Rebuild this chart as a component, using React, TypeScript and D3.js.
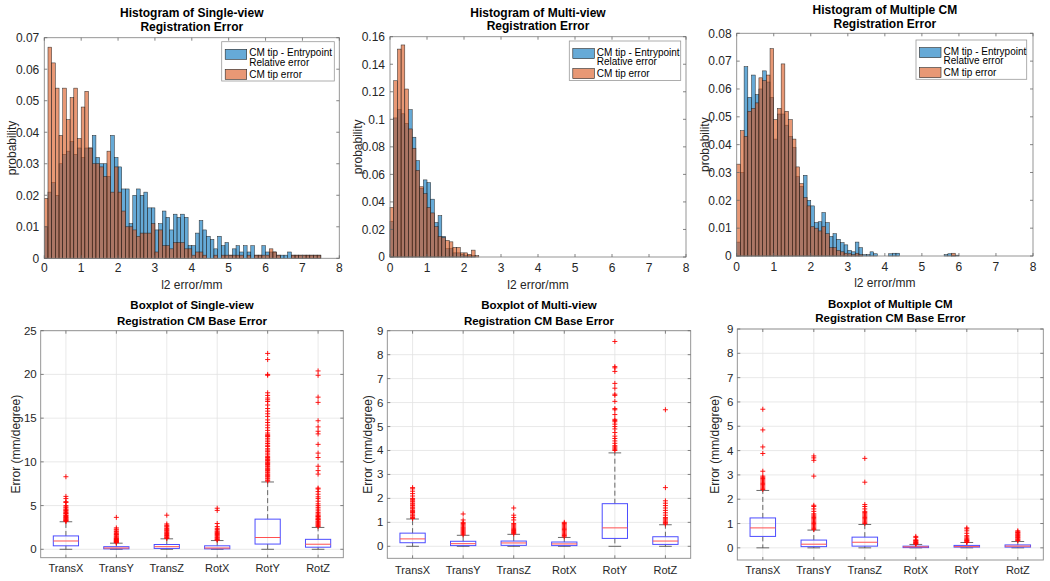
import React from 'react';
import * as d3 from 'd3';

const FONT = '"Liberation Sans", Arial, Helvetica, sans-serif';
const BLUE = '#0072BD';
const ORANGE = '#D95319';
const TXT = '#262626';

// ---------- histogram data (bin width 0.1 mm, starting at 0) ----------
const histXTicks = [0, 1, 2, 3, 4, 5, 6, 7, 8];
const binWidth = 0.1;

const h1Relative = [
  0.010, 0.021, 0.024, 0.020, 0.030, 0.033, 0.034, 0.037, 0.033, 0.035, 0.032, 0.035,
  0.035, 0.039, 0.032, 0.030, 0.030, 0.026, 0.039, 0.032, 0.029, 0.022, 0.022, 0.011,
  0.020, 0.022, 0.020, 0.021, 0.016, 0.016, 0.009, 0.011, 0.015, 0.013, 0.009, 0.014,
  0.013, 0.014, 0.013, 0.004, 0.004, 0.008, 0.012, 0.009, 0.007, 0.006, 0.003, 0.007,
  0.004, 0.005, 0.001, 0.003, 0.004, 0.002, 0.004, 0.002, 0.004, 0.001, 0.001, 0.004,
  0.002, 0.002, 0.002, 0.001, 0.001, 0.001, 0.002, 0.001, 0.001, 0.001, 0.001, 0.001, 0.001, 0.001, 0.001,
];
const h1Tip = [
  0.019, 0.067, 0.062, 0.054, 0.039, 0.054, 0.044, 0.051, 0.054, 0.038, 0.048, 0.053,
  0.035, 0.030, 0.030, 0.029, 0.026, 0.034, 0.021, 0.029, 0.021, 0.015, 0.010, 0.010,
  0.009, 0.007, 0.008, 0.008, 0.008, 0.011, 0.002, 0.009, 0.004, 0.004, 0.003, 0.005,
  0.005, 0.005, 0.003, 0.003, 0.001, 0.002, 0.002, 0.001, 0.000, 0.000, 0.001, 0.000,
  0.001, 0.001, 0.001, 0.001, 0.001, 0.001, 0.000, 0.001, 0.000, 0.001, 0.001, 0.001,
  0.001, 0.003, 0.002, 0.001, 0.000, 0.000, 0.000, 0.001, 0.001, 0.001, 0.001, 0.001, 0.001, 0.001, 0.001,
];
const h1YTicks = [0, 0.01, 0.02, 0.03, 0.04, 0.05, 0.06, 0.07];

const h2Relative = [
  0.026, 0.101, 0.107, 0.104, 0.097, 0.107, 0.087, 0.070, 0.050, 0.056, 0.054, 0.042,
  0.025, 0.030, 0.015, 0.006, 0.006, 0.003, 0.003, 0.002, 0.001, 0.001, 0.001, 0.000,
];
const h2Tip = [
  0.036, 0.128, 0.151, 0.154, 0.122, 0.093, 0.079, 0.063, 0.051, 0.046, 0.036, 0.032,
  0.022, 0.015, 0.014, 0.012, 0.011, 0.007, 0.007, 0.003, 0.003, 0.002, 0.005, 0.001,
];
const h2YTicks = [0, 0.02, 0.04, 0.06, 0.08, 0.1, 0.12, 0.14, 0.16];

const h3Relative = [
  0.005, 0.030, 0.068, 0.057, 0.065, 0.058, 0.060, 0.0665, 0.0625, 0.057, 0.042, 0.051,
  0.051, 0.047, 0.043, 0.039, 0.0285, 0.025, 0.029, 0.020, 0.018, 0.012, 0.0123, 0.0156,
  0.012, 0.007, 0.008, 0.006, 0.0048, 0.004, 0.002, 0.0015, 0.005, 0.003, 0.0005, 0.0005,
  0.0015, 0.0008, 0, 0, 0, 0.0008, 0.001, 0.001, 0, 0, 0, 0,
  0, 0, 0, 0, 0, 0, 0, 0, 0.0005, 0.0008, 0.0003, 0.0003,
];
const h3Tip = [
  0.033, 0.045, 0.043, 0.052, 0.053, 0.055, 0.064, 0.063, 0.065, 0.0745, 0.049, 0.053,
  0.069, 0.052, 0.049, 0.042, 0.032, 0.026, 0.021, 0.018, 0.0105, 0.010, 0.009, 0.0105,
  0.008, 0.003, 0.003, 0.002, 0.0015, 0.001, 0.0008, 0.0005, 0.001, 0.0005, 0, 0,
  0, 0, 0, 0, 0, 0, 0, 0, 0, 0, 0, 0,
  0, 0, 0, 0, 0, 0, 0, 0, 0, 0, 0.001, 0,
];
const h3YTicks = [0, 0.01, 0.02, 0.03, 0.04, 0.05, 0.06, 0.07, 0.08];

const legendLabels = ['CM tip - Entrypoint', 'Relative error', 'CM tip error'];

// ---------- boxplot data ----------
const boxCategories = ['TransX', 'TransY', 'TransZ', 'RotX', 'RotY', 'RotZ'];
// [lower whisker, q1, median, q3, upper whisker]
const b1Stats = [
  [0, 0.4, 0.95, 1.53, 3.15],
  [0, 0.05, 0.15, 0.3, 0.7],
  [0, 0.1, 0.3, 0.55, 1.2],
  [0, 0.05, 0.15, 0.4, 1.0],
  [0, 0.6, 1.35, 3.45, 7.7],
  [0, 0.24, 0.58, 1.14, 2.5],
];
const b1Outliers = [
  [3.2, 3.25, 3.3, 3.38, 3.45, 3.5, 3.6, 3.65, 3.75, 3.85, 3.9, 4.05, 4.1, 4.2, 4.3, 4.45, 4.5, 4.6, 4.75, 4.85, 5.0, 5.35, 5.45, 5.8, 6.05, 8.3],
  [0.75, 0.8, 0.85, 0.9, 0.95, 1.0, 1.05, 1.12, 1.18, 1.25, 1.3, 1.4, 1.5, 1.62, 1.7, 1.8, 1.95, 2.05, 2.2, 2.3, 2.45, 3.65],
  [1.25, 1.32, 1.4, 1.5, 1.58, 1.7, 1.8, 1.9, 2.0, 2.12, 2.2, 2.3, 2.4, 2.55, 2.65, 2.75, 2.9, 3.9],
  [1.05, 1.1, 1.2, 1.3, 1.38, 1.5, 1.6, 1.7, 1.8, 1.9, 2.0, 2.1, 2.25, 2.4, 2.6, 2.95, 4.45, 4.7],
  [7.8, 7.9, 8.05, 8.15, 8.3, 8.4, 8.5, 8.6, 8.75, 8.85, 9.0, 9.1, 9.2, 9.3, 9.45, 9.55, 9.7, 9.8, 9.9, 10.0, 10.15, 10.25, 10.35, 10.5, 10.6, 10.8, 11.0, 11.2, 11.35, 11.5, 11.75, 11.9, 12.1, 12.3, 12.5, 12.7, 12.9, 13.0, 13.1, 13.3, 13.6, 13.9, 14.2, 14.5, 14.8, 15.2, 15.5, 15.8, 16.1, 16.5, 16.9, 17.1, 17.3, 17.6, 17.9, 19.9, 20.0, 21.7, 22.4],
  [2.6, 2.7, 2.8, 2.9, 3.0, 3.1, 3.2, 3.35, 3.4, 3.5, 3.6, 3.75, 3.8, 3.9, 4.05, 4.2, 4.4, 4.6, 4.8, 5.0, 5.2, 5.5, 5.8, 6.0, 6.3, 6.6, 6.9, 7.0, 8.6, 9.0, 9.5, 10.5, 11.0, 12.0, 13.2, 13.5, 14.0, 14.7, 16.8, 17.4, 19.9, 20.4],
];
const b1YTicks = [0, 5, 10, 15, 20, 25];

const b2Stats = [
  [0, 0.15, 0.31, 0.55, 1.14],
  [0, 0.03, 0.11, 0.21, 0.46],
  [0, 0.04, 0.14, 0.22, 0.5],
  [0, 0.03, 0.1, 0.18, 0.37],
  [0, 0.33, 0.77, 1.78, 3.9],
  [0, 0.08, 0.22, 0.4, 0.9],
];
const b2Outliers = [
  [1.16, 1.2, 1.26, 1.3, 1.35, 1.41, 1.45, 1.5, 1.56, 1.6, 1.64, 1.7, 1.76, 1.8, 1.86, 1.9, 1.96, 2.0, 2.1, 2.2, 2.3, 2.4, 2.45],
  [0.48, 0.52, 0.56, 0.6, 0.64, 0.68, 0.72, 0.76, 0.8, 0.85, 0.9, 0.95, 1.0, 1.1, 1.35],
  [0.52, 0.55, 0.58, 0.62, 0.66, 0.7, 0.75, 0.8, 0.85, 0.9, 0.95, 1.1, 1.2, 1.3, 1.6],
  [0.4, 0.45, 0.5, 0.55, 0.6, 0.65, 0.7, 0.75, 0.8, 0.85, 0.9, 0.95, 1.0],
  [4.0, 4.05, 4.1, 4.15, 4.2, 4.3, 4.4, 4.5, 4.6, 4.75, 4.9, 5.0, 5.1, 5.2, 5.25, 5.3, 5.5, 5.7, 5.75, 6.05, 6.3, 6.35, 6.6, 6.8, 7.3, 7.45, 7.5, 8.55],
  [0.93, 0.97, 1.0, 1.05, 1.1, 1.15, 1.2, 1.3, 1.4, 1.5, 1.6, 1.7, 1.8, 1.9, 2.45, 5.7],
];
const b23YTicks = [0, 1, 2, 3, 4, 5, 6, 7, 8, 9];

const b3Stats = [
  [0, 0.47, 0.82, 1.23, 2.36],
  [0, 0.05, 0.15, 0.32, 0.73],
  [0, 0.07, 0.23, 0.44, 0.96],
  [0, 0.01, 0.04, 0.07, 0.14],
  [0, 0.03, 0.05, 0.1, 0.22],
  [0, 0.03, 0.07, 0.12, 0.26],
];
const b3Outliers = [
  [2.4, 2.45, 2.5, 2.55, 2.6, 2.65, 2.7, 2.75, 2.8, 2.85, 2.9, 2.95, 3.15, 3.88, 4.15, 4.85, 5.7],
  [0.75, 0.8, 0.85, 0.9, 0.95, 1.0, 1.05, 1.1, 1.15, 1.2, 1.25, 1.3, 1.35, 1.4, 1.5, 1.6, 1.7, 1.75, 2.95, 3.6, 3.7, 3.78],
  [1.0, 1.05, 1.1, 1.15, 1.2, 1.25, 1.3, 1.35, 1.4, 1.45, 1.5, 1.6, 1.7, 1.78, 2.7, 3.68],
  [0.15, 0.18, 0.2, 0.22, 0.25, 0.28, 0.3, 0.33, 0.42, 0.47],
  [0.22, 0.25, 0.28, 0.3, 0.33, 0.36, 0.4, 0.45, 0.5, 0.6, 0.7, 0.78, 0.82],
  [0.3, 0.33, 0.36, 0.4, 0.43, 0.46, 0.5, 0.53, 0.56, 0.6, 0.63, 0.66, 0.7],
];

const fmt = (v: number) => String(+v.toFixed(3));

type HistProps = {
  x0: number; x1: number; y0: number; y1: number;
  ymax: number; yTicks: number[];
  blue: number[]; orange: number[];
  title: string[]; titleY: number[];
  ylabelX: number; xTickY: number; xlabelY: number;
  legend: { left: number; top: number; w: number; h: number };
};

function HistPanel(p: HistProps) {
  const xs = d3.scaleLinear().domain([0, 8]).range([p.x0, p.x1]);
  const ys = d3.scaleLinear().domain([0, p.ymax]).range([p.y1, p.y0]);
  const cx = (p.x0 + p.x1) / 2;
  const cy = (p.y0 + p.y1) / 2;
  const bars = (vals: number[], color: string, key: string) =>
    vals.map((v, i) =>
      v > 0 ? (
        <rect
          key={key + i}
          x={xs(i * binWidth)}
          y={ys(v)}
          width={xs((i + 1) * binWidth) - xs(i * binWidth)}
          height={ys(0) - ys(v)}
          fill={color}
          fillOpacity={0.6}
          stroke="#262626"
          strokeWidth={0.5}
        />
      ) : null
    );
  const L = p.legend;
  const tl = 3;
  return (
    <g fontFamily={FONT}>
      {p.title.map((t, i) => (
        <text key={'t' + i} x={cx} y={p.titleY[i]} textAnchor="middle" fontSize={12} fontWeight="bold" fill="#000">
          {t}
        </text>
      ))}
      <rect x={p.x0} y={p.y0} width={p.x1 - p.x0} height={p.y1 - p.y0} fill="#fff" />
      {bars(p.blue, BLUE, 'b')}
      {bars(p.orange, ORANGE, 'o')}
      <rect x={p.x0} y={p.y0} width={p.x1 - p.x0} height={p.y1 - p.y0} fill="none" stroke="#8a8a8a" strokeWidth={0.9} />
      {histXTicks.map((t) => (
        <g key={'xt' + t}>
          <line x1={xs(t)} x2={xs(t)} y1={p.y1} y2={p.y1 - tl} stroke="#666" strokeWidth={0.8} />
          <line x1={xs(t)} x2={xs(t)} y1={p.y0} y2={p.y0 + tl} stroke="#666" strokeWidth={0.8} />
          <text x={xs(t)} y={p.xTickY + 4.3} textAnchor="middle" fontSize={12} fill={TXT}>
            {t}
          </text>
        </g>
      ))}
      {p.yTicks.map((t) => (
        <g key={'yt' + t}>
          <line x1={p.x0} x2={p.x0 + tl} y1={ys(t)} y2={ys(t)} stroke="#666" strokeWidth={0.8} />
          <line x1={p.x1} x2={p.x1 - tl} y1={ys(t)} y2={ys(t)} stroke="#666" strokeWidth={0.8} />
          <text x={p.x0 - 5} y={ys(t) + 4.3} textAnchor="end" fontSize={12} fill={TXT}>
            {fmt(t)}
          </text>
        </g>
      ))}
      <text x={cx} y={p.xlabelY + 4} textAnchor="middle" fontSize={12} fill={TXT}>
        l2 error/mm
      </text>
      <text transform={`translate(${p.ylabelX + 4},${cy}) rotate(-90)`} textAnchor="middle" fontSize={12} fill={TXT}>
        probability
      </text>
      <g>
        <rect x={L.left} y={L.top} width={L.w} height={L.h} fill="#fff" stroke="#9a9a9a" strokeWidth={0.8} />
        <rect x={L.left + 3.5} y={L.top + 7.6} width={21.5} height={10} fill={BLUE} fillOpacity={0.6} stroke="#262626" strokeWidth={0.6} />
        <rect x={L.left + 3.5} y={L.top + 27.6} width={21.5} height={10} fill={ORANGE} fillOpacity={0.6} stroke="#262626" strokeWidth={0.6} />
        <text x={L.left + 27.5} y={L.top + 14.6} fontSize={10} fill="#000">{legendLabels[0]}</text>
        <text x={L.left + 27.5} y={L.top + 24} fontSize={10} fill="#000">{legendLabels[1]}</text>
        <text x={L.left + 27.5} y={L.top + 36.3} fontSize={10} fill="#000">{legendLabels[2]}</text>
      </g>
    </g>
  );
}

type BoxProps = {
  x0: number; x1: number; y0: number; y1: number;
  yDomain: [number, number]; yTicks: number[];
  stats: number[][]; outliers: number[][];
  title: string[]; titleY: number[];
  ylabelX: number; catY: number;
};

function BoxPanel(p: BoxProps) {
  const xs = d3.scaleLinear().domain([0.5, 6.5]).range([p.x0, p.x1]);
  const ys = d3.scaleLinear().domain(p.yDomain).range([p.y1, p.y0]);
  const cx = (p.x0 + p.x1) / 2;
  const cy = (p.y0 + p.y1) / 2;
  const half = (xs(1.25) - xs(1)) ;
  const cap = half / 2;
  const tl = 3;
  return (
    <g fontFamily={FONT}>
      {p.title.map((t, i) => (
        <text key={'t' + i} x={cx} y={p.titleY[i]} textAnchor="middle" fontSize={11.5} fontWeight="bold" fill="#000">
          {t}
        </text>
      ))}
      <rect x={p.x0} y={p.y0} width={p.x1 - p.x0} height={p.y1 - p.y0} fill="#fff" />
      {p.yTicks.map((t) => (
        <line key={'gy' + t} x1={p.x0} x2={p.x1} y1={ys(t)} y2={ys(t)} stroke="#e3e3e3" strokeWidth={0.8} />
      ))}
      {boxCategories.map((c, i) => (
        <line key={'gx' + c} x1={xs(i + 1)} x2={xs(i + 1)} y1={p.y0} y2={p.y1} stroke="#e3e3e3" strokeWidth={0.8} />
      ))}
      {p.stats.map((s, i) => {
        const x = xs(i + 1);
        const [lo, q1, med, q3, hi] = s;
        return (
          <g key={'bx' + i}>
            <line x1={x} x2={x} y1={ys(q3)} y2={ys(hi)} stroke="#444" strokeWidth={0.8} strokeDasharray="5,3" />
            <line x1={x} x2={x} y1={ys(q1)} y2={ys(lo)} stroke="#444" strokeWidth={0.8} strokeDasharray="5,3" />
            <line x1={x - cap} x2={x + cap} y1={ys(hi)} y2={ys(hi)} stroke="#444" strokeWidth={0.8} />
            <line x1={x - cap} x2={x + cap} y1={ys(lo)} y2={ys(lo)} stroke="#444" strokeWidth={0.8} />
            <rect x={x - half} y={ys(q3)} width={2 * half} height={Math.max(ys(q1) - ys(q3), 0.5)} fill="none" stroke="#4d4dff" strokeWidth={1} />
            <line x1={x - half} x2={x + half} y1={ys(med)} y2={ys(med)} stroke="#ff5050" strokeWidth={1} />
            {p.outliers[i].map((v, j) => (
              <path
                key={'o' + j}
                d={`M${x - 2.5},${ys(v)}h5M${x},${ys(v) - 2.5}v5`}
                stroke="#ff0000"
                strokeWidth={0.9}
                fill="none"
              />
            ))}
          </g>
        );
      })}
      <rect x={p.x0} y={p.y0} width={p.x1 - p.x0} height={p.y1 - p.y0} fill="none" stroke="#8a8a8a" strokeWidth={0.9} />
      {p.yTicks.map((t) => (
        <g key={'yt' + t}>
          <line x1={p.x0} x2={p.x0 + tl} y1={ys(t)} y2={ys(t)} stroke="#666" strokeWidth={0.8} />
          <line x1={p.x1} x2={p.x1 - tl} y1={ys(t)} y2={ys(t)} stroke="#666" strokeWidth={0.8} />
          <text x={p.x0 - 4} y={ys(t) + 4} textAnchor="end" fontSize={11.5} fill={TXT}>
            {t}
          </text>
        </g>
      ))}
      {boxCategories.map((c, i) => (
        <g key={'c' + c}>
          <line x1={xs(i + 1)} x2={xs(i + 1)} y1={p.y1} y2={p.y1 - tl} stroke="#666" strokeWidth={0.8} />
          <line x1={xs(i + 1)} x2={xs(i + 1)} y1={p.y0} y2={p.y0 + tl} stroke="#666" strokeWidth={0.8} />
          <text x={xs(i + 1)} y={p.catY + 4} textAnchor="middle" fontSize={11} fill={TXT}>
            {c}
          </text>
        </g>
      ))}
      <text transform={`translate(${p.ylabelX + 4},${cy}) rotate(-90)`} textAnchor="middle" fontSize={12} fill={TXT}>
        Error (mm/degree)
      </text>
    </g>
  );
}

export default function App() {
  return (
    <svg width={1050} height={581} style={{ position: 'absolute', left: 0, top: 0, background: '#fff' }}>
      <rect width={1050} height={581} fill="#fff" />
      <HistPanel
        x0={44.3} x1={339.3} y0={37.7} y1={258.3}
        ymax={0.07} yTicks={h1YTicks} blue={h1Relative} orange={h1Tip}
        title={['Histogram of Single-view', 'Registration Error']} titleY={[16.6, 31]}
        ylabelX={11.7} xTickY={267.7} xlabelY={285}
        legend={{ left: 221.7, top: 41.7, w: 112.6, h: 39.3 }}
      />
      <HistPanel
        x0={390} x1={686} y0={36.7} y1={257}
        ymax={0.16} yTicks={h2YTicks} blue={h2Relative} orange={h2Tip}
        title={['Histogram of Multi-view', 'Registration Error']} titleY={[16.6, 30.4]}
        ylabelX={358.3} xTickY={267.7} xlabelY={285}
        legend={{ left: 569.3, top: 41, w: 111.4, h: 39.5 }}
      />
      <HistPanel
        x0={736.7} x1={1033} y0={33.3} y1={256}
        ymax={0.08} yTicks={h3YTicks} blue={h3Relative} orange={h3Tip}
        title={['Histogram of Multiple CM', 'Registration Error']} titleY={[14.3, 28.4]}
        ylabelX={705} xTickY={266.7} xlabelY={283.3}
        legend={{ left: 916, top: 40, w: 110.7, h: 39.3 }}
      />
      <BoxPanel
        x0={40.7} x1={343.3} y0={330.7} y1={557.7}
        yDomain={[-0.96, 25]} yTicks={b1YTicks} stats={b1Stats} outliers={b1Outliers}
        title={['Boxplot of Single-view', 'Registration CM Base Error']} titleY={[309.2, 324.8]}
        ylabelX={16} catY={568.3}
      />
      <BoxPanel
        x0={387.3} x1={690.7} y0={330.7} y1={558.3}
        yDomain={[-0.5, 9]} yTicks={b23YTicks} stats={b2Stats} outliers={b2Outliers}
        title={['Boxplot of Multi-view', 'Registration CM Base Error']} titleY={[309.2, 324.8]}
        ylabelX={368.3} catY={570}
      />
      <BoxPanel
        x0={737.3} x1={1043.3} y0={329} y1={560}
        yDomain={[-0.5, 9]} yTicks={b23YTicks} stats={b3Stats} outliers={b3Outliers}
        title={['Boxplot of Multiple CM', 'Registration CM Base Error']} titleY={[307.5, 322.4]}
        ylabelX={715} catY={570}
      />
    </svg>
  );
}
